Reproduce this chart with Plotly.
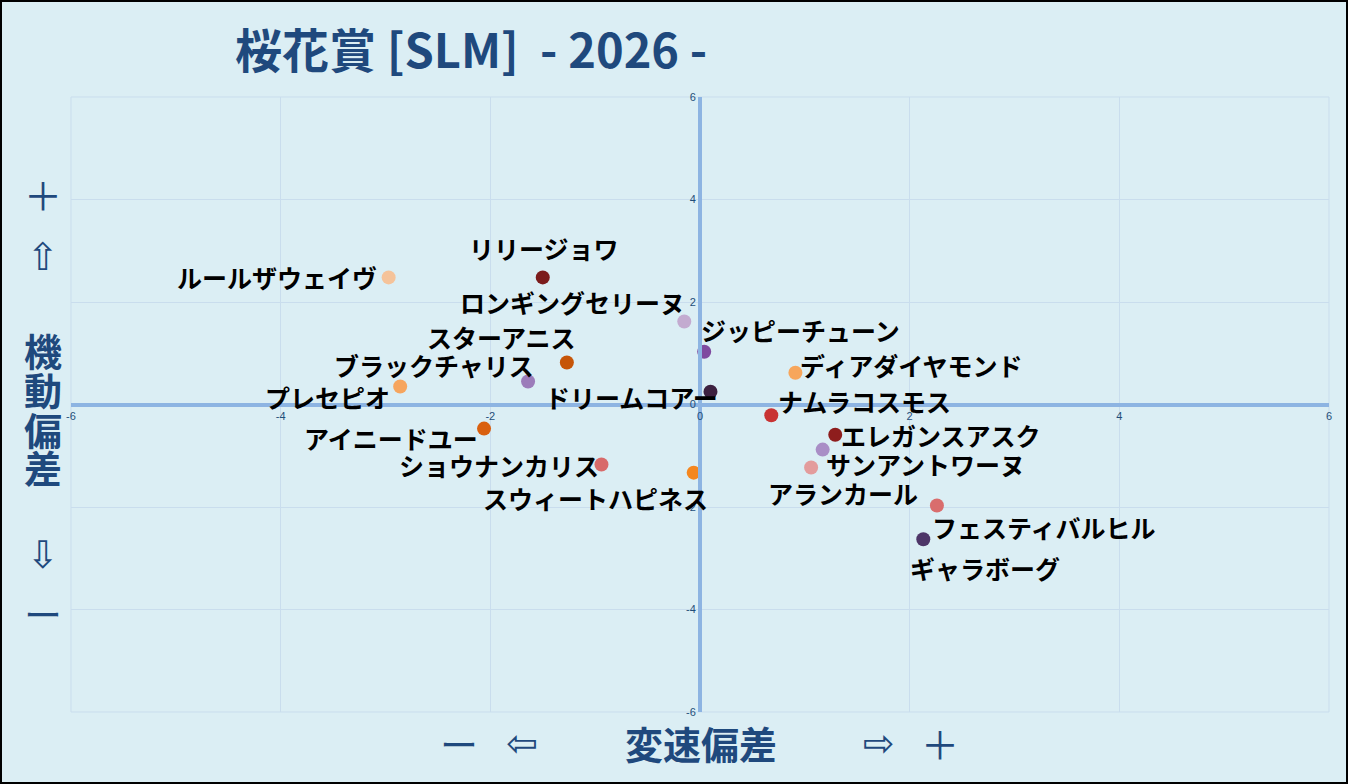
import plotly.graph_objects as go

# 馬名と座標 (変速偏差, 機動偏差)
horses = [
    "ルールザウェイヴ", "リリージョワ", "ロンギングセリーヌ", "ジッピーチューン",
    "スターアニス", "ブラックチャリス", "プレセピオ", "ドリームコアー",
    "ディアダイヤモンド", "ナムラコスモス", "アイニードユー", "エレガンスアスク",
    "サンアントワーヌ", "ショウナンカリス", "アランカール", "スウィートハピネス",
    "フェスティバルヒル", "ギャラボーグ",
]
speed_dev = [-2.97, -1.50, -0.15, 0.04, -1.27, -1.64, -2.86, 0.10,
             0.91, 0.68, -2.06, 1.29, 1.17, -0.94, 1.06, -0.06, 2.26, 2.13]
mobility_dev = [2.48, 2.48, 1.62, 1.03, 0.82, 0.45, 0.35, 0.25,
                0.62, -0.21, -0.47, -0.59, -0.88, -1.17, -1.23, -1.33, -1.97, -2.63]
colors = ["#f5c39a", "#7b1c1c", "#c3abd0", "#7f4aa0", "#c65508", "#9c7cba",
          "#f6a55e", "#3d2140", "#f7a65c", "#c83333", "#d9600f", "#8e1d1d",
          "#a98ec6", "#d86a6a", "#e39c9c", "#f5871f", "#d96d6d", "#4e3668"]

# ラベルの位置 (マーカーからのずれ, px)
label_dx = [-112, 1, -112, 96, -65, -94, -73, -79, 116, 93, -93, 106, 103, -102, 32, -98, 107, 62]
label_dy = [0, 29, 19, 22, 25, 16, -10, -5, 8, 14, -9, 0, -14, -1, -25, -25, -22, -29]

ticks = [-6, -4, -2, 0, 2, 4, 6]
tick_text = ["-6", "-4", "-2", "0", "2", "4", "6"]

W, H = 1348, 784
ML, MR, MT, MB = 71, 19, 97, 72
PW, PH = W - ML - MR, H - MT - MB


def px(x):
    return (x - ML) / PW


def py(y):
    return (H - MB - y) / PH


navy = "#1f497d"
grid = "#c9dded"
axis_col = "#8db4e2"

fig = go.Figure()
fig.add_trace(go.Scatter(
    x=speed_dev, y=mobility_dev, mode="markers",
    marker=dict(size=14, color=colors, line=dict(width=0)),
    hoverinfo="text", text=horses, showlegend=False,
))

annotations = []
for name, x, y, dx, dy in zip(horses, speed_dev, mobility_dev, label_dx, label_dy):
    annotations.append(dict(
        x=x, y=y, xref="x", yref="y", text=name, showarrow=False,
        xanchor="center", yanchor="middle", xshift=dx, yshift=dy,
        font=dict(family="Noto Sans CJK JP", size=25, color="#000000", weight="bold"),
    ))

# タイトル
annotations.append(dict(
    x=px(233), y=py(47), xref="paper", yref="paper", xanchor="left", yanchor="middle",
    text="桜花賞 [SLM]  - 2026 -", showarrow=False,
    font=dict(family="Noto Sans CJK JP", size=47, color=navy, weight="bold"),
))

lab_font = dict(family="Noto Sans CJK JP", size=38, color=navy, weight="bold")
thin_font = dict(family="Noto Sans CJK JP", size=38, color=navy, weight="normal")
sym_font = dict(family="DejaVu Sans", size=38, color=navy)

# 縦軸タイトル
for txt, yy, f in [("＋", 193, thin_font), ("⇧", 257, sym_font),
                   ("機", 349, lab_font), ("動", 388, lab_font),
                   ("偏", 428, lab_font), ("差", 466, lab_font),
                   ("⇩", 555, sym_font), ("ー", 612, thin_font)]:
    annotations.append(dict(x=px(43), y=py(yy), xref="paper", yref="paper", text=txt,
                            showarrow=False, xanchor="center", yanchor="middle", font=f))

# 横軸タイトル
for txt, xx, f in [("ー", 459, thin_font), ("⇦", 522, sym_font),
                   ("変速偏差", 701, lab_font), ("⇨", 879, sym_font),
                   ("＋", 940, thin_font)]:
    annotations.append(dict(x=px(xx), y=py(743), xref="paper", yref="paper", text=txt,
                            showarrow=False, xanchor="center", yanchor="middle", font=f))

tick_font = dict(family="Liberation Sans", size=11, color="#1f4e79")

fig.update_layout(
    width=W, height=H,
    margin=dict(l=ML, r=MR, t=MT, b=MB),
    paper_bgcolor="#dbeef4", plot_bgcolor="#dbeef4",
    annotations=annotations,
    xaxis=dict(range=[-6, 6], tickvals=ticks, ticktext=tick_text, showgrid=True,
               gridcolor=grid, gridwidth=1, zeroline=False, showline=True,
               linecolor=axis_col, linewidth=4, anchor="free", position=0.5,
               ticks="", tickfont=tick_font, fixedrange=True),
    yaxis=dict(range=[-6, 6], tickvals=ticks, ticktext=tick_text, showgrid=True,
               gridcolor=grid, gridwidth=1, zeroline=False, showline=True,
               linecolor=axis_col, linewidth=4, anchor="free", position=0.5,
               ticks="", tickfont=tick_font, fixedrange=True),
    shapes=[
        dict(type="rect", xref="paper", yref="paper", x0=0, x1=1, y0=0, y1=1,
             line=dict(color=grid, width=1), layer="below"),
        dict(type="rect", xref="paper", yref="paper", x0=px(1), x1=px(W - 1),
             y0=py(H - 1), y1=py(1), line=dict(color="#000000", width=2)),
    ],
)

fig.write_html("out.html", config={"displayModeBar": False},
               post_script="document.body.style.margin='0';")
